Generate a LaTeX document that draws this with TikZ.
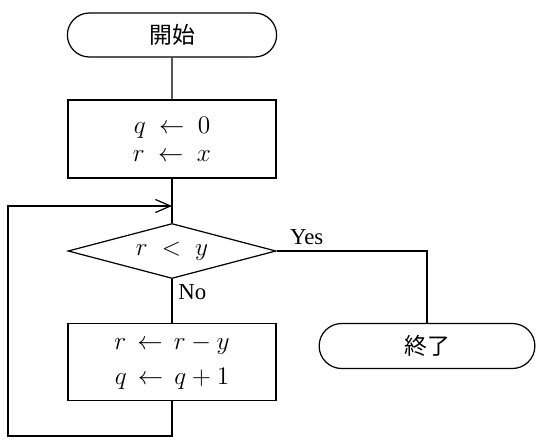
\documentclass[tikz,border=0pt]{standalone}
\usepackage{fontspec}
\setmainfont{Liberation Serif}
\newfontfamily\jpfont{Noto Sans CJK JP}
\usetikzlibrary{shapes}
\usetikzlibrary{arrows.meta}

\begin{document}
\begin{tikzpicture}[x=0.02cm,y=-0.02cm,line width=0.7pt,
        font=\fontsize{13}{18}\selectfont,
        terminal/.style={draw,rounded rectangle,minimum width=4.42cm,minimum height=0.88cm,font=\fontsize{13}{18}\jpfont},
        process/.style={draw,rectangle,align=center,minimum width=4.16cm,minimum height=1.56cm,font=\fontsize{14.5}{19}\selectfont},
        decision/.style={draw,diamond,shape aspect=3.8,minimum width=4.16cm,minimum height=1.1cm,inner sep=0pt,font=\fontsize{14.5}{19}\selectfont},
        flow/.style={-{Straight Barb[length=3mm,width=2.6mm]}}]
        \useasboundingbox (0,0) rectangle (536,446);
        %Terminals
            \node[terminal] (start) at (172,35) {開始};
            \node[terminal,minimum width=4.55cm,minimum height=0.9cm] (stop) at (427,346) {終了};
        %Steps
            \node[process] (init) at (172,139) {$q\ \leftarrow\ 0$\\[-3pt]$r\ \leftarrow\ x$};
            \node[decision] (test) at (172,251) {$r\;<\;y$};
            \node[process,minimum height=1.54cm] (update) at (172,362) {$r\,\leftarrow\,r-y$\\[1pt]$q\,\leftarrow\,q+1$};
        %Corners of the loop
            \coordinate (back) at (8,436);
            \coordinate (entry) at (172,206);
        %Straight lines
            \draw (start) -- (init);
            \draw (init) -- (test);
            \draw (test) -- (update) node[pos=0.3,right] {No};
        %Yes branch
            \draw (test.east) -| (stop) node[pos=0.1,above] {Yes};
        %Loop back
            \draw[flow] (update.south) |- (back) |- (entry);
\end{tikzpicture}
\end{document}
